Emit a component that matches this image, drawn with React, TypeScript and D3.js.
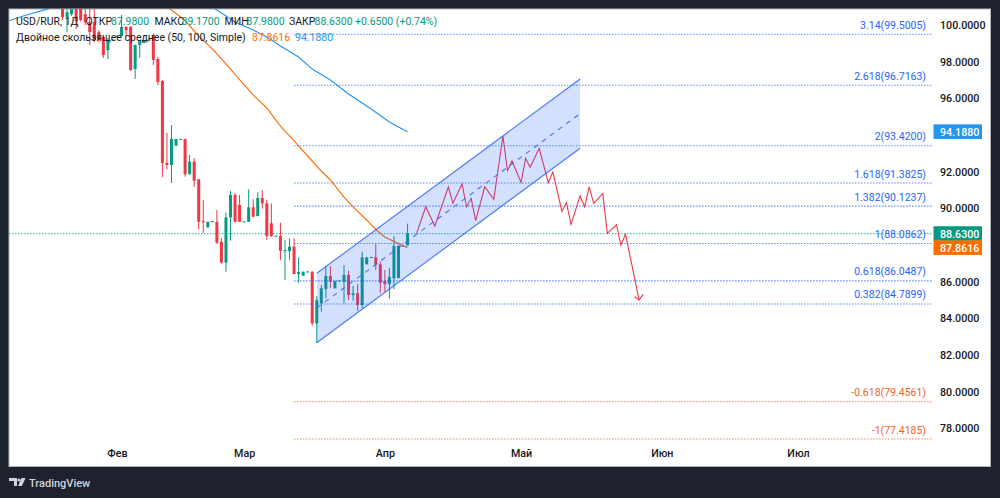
import { useEffect, useRef } from "react";
import * as d3 from "d3";

const WIDTH = 1000;
const HEIGHT = 498;
const FRAME = { left: 9, top: 9, right: 990.5, bottom: 466.5 };
const FONT = "Roboto, sans-serif";

const GREEN = "#089981";
const RED = "#f23645";
const BLUE = "#2962ff";
const ORANGE = "#ff6d00";
const SKY = "#2196f3";

// day numbers count from 1 Feb 2025
const FIRST_DAY = -12;
const opens = [101.1, 100.44, 100.6, 101.1, 100.9, 100.6, 100.17, 100.17, 99.62, 99.35, 98.64, 99.17, 99.38, 99.4, 99.9, 99.9, 97.6, 98.91, 99.02, 99.17, 99.46, 98.15, 96.95, 92.48, 92.37, 93.42, 93.74, 93.79, 91.86, 92.55, 91.59, 89.31, 88.97, 89.25, 89.27, 88.18, 87.04, 89.51, 90.73, 90.19, 89.26, 89.27, 90.06, 89.58, 90.57, 90.28, 89.19, 88.47, 88.5, 87.67, 87.67, 87.91, 86.42, 86.33, 86.53, 86.55, 83.73, 84.82, 85.6, 86.31, 85.64, 86.03, 86.0, 86.37, 85.27, 85.37, 84.73, 86.95, 87.31, 87.33, 86.95, 86.05, 85.87, 86.19, 86.2, 87.93, 87.98];
const highs = [101.4, 100.9, 101.2, 101.3, 101.2, 100.9, 100.9, 100.88, 99.73, 99.4, 99.3, 99.22, 99.42, 100.55, 99.95, 99.95, 98.95, 99.19, 99.19, 99.21, 99.55, 98.26, 97.0, 94.13, 94.55, 93.79, 93.79, 93.8, 92.91, 92.75, 91.6, 90.46, 89.27, 89.31, 89.91, 88.38, 89.77, 90.95, 90.84, 90.73, 89.29, 91.04, 90.5, 90.88, 91.0, 90.46, 90.28, 88.51, 89.22, 88.27, 88.37, 88.37, 87.33, 86.55, 86.56, 86.56, 85.22, 85.82, 86.86, 86.86, 86.05, 86.07, 86.91, 86.6, 85.77, 85.87, 87.64, 87.33, 87.35, 88.06, 87.09, 86.64, 86.75, 88.49, 87.97, 87.97, 89.17];
const lows = [100.28, 99.62, 100.5, 99.79, 100.2, 100.0, 98.91, 99.08, 99.08, 98.21, 98.15, 99.17, 99.38, 99.4, 99.35, 97.5, 97.06, 98.21, 99.02, 99.17, 97.82, 96.73, 91.71, 92.13, 91.39, 93.42, 93.74, 91.73, 91.86, 91.18, 88.86, 88.66, 88.97, 89.25, 88.06, 87.0, 86.55, 88.24, 89.22, 89.27, 89.26, 89.27, 89.51, 89.58, 89.98, 88.27, 88.45, 88.47, 87.18, 86.09, 87.18, 86.42, 85.95, 86.33, 86.53, 83.6, 82.67, 84.36, 85.09, 85.66, 85.64, 86.03, 84.82, 85.0, 84.96, 84.42, 84.57, 86.95, 87.31, 86.64, 85.4, 85.45, 85.09, 85.59, 86.2, 87.93, 87.98];
const closes = [100.44, 100.71, 100.95, 100.22, 100.28, 100.17, 99.62, 99.19, 99.19, 98.37, 99.19, 99.22, 99.42, 99.9, 99.73, 97.55, 98.91, 99.19, 99.19, 99.21, 98.1, 96.9, 92.48, 92.37, 93.79, 93.79, 93.79, 91.86, 92.55, 91.51, 89.27, 89.25, 89.27, 89.31, 88.13, 87.04, 89.51, 90.73, 89.27, 89.27, 89.29, 90.06, 89.55, 90.57, 90.28, 88.49, 88.49, 88.51, 87.69, 87.73, 87.91, 86.42, 86.53, 86.55, 86.56, 83.73, 85.0, 85.64, 86.31, 86.0, 86.05, 86.07, 86.37, 85.27, 85.37, 84.73, 87.33, 87.33, 87.35, 86.95, 85.95, 85.87, 86.27, 87.95, 87.97, 87.97, 88.63];

const fastDays = [10, 15, 18, 21, 24, 27, 30, 33, 36, 39, 42, 45, 47, 50, 52, 55, 57, 59, 62, 64];
const fastValues = [101.2, 100.25, 99.4, 98.7, 97.88, 97.03, 96.19, 95.48, 94.49, 93.68, 92.86, 92.04, 91.55, 90.62, 90.08, 89.37, 88.85, 88.44, 88.08, 87.8616];
const slowDays = [-24, -20, -15, -5, 10, 20, 22, 26, 30, 33, 36, 40, 43, 47, 51, 56, 60, 62, 64];
const slowValues = [100.22, 100.55, 100.9, 101.8, 102.0, 101.15, 100.82, 100.17, 99.73, 99.35, 98.86, 98.26, 97.6, 97.0, 96.24, 95.42, 94.71, 94.44, 94.188];

const pathDays = [66, 68, 70, 73, 74, 76, 77, 78, 79, 81, 83, 85, 86, 87, 89, 90, 91, 93, 95, 96, 98, 99, 100, 102, 103, 104, 105, 107, 108, 110, 111, 112, 115];
const pathValues = [88.64, 90.09, 89.04, 91.18, 90.28, 91.33, 90.09, 90.55, 89.33, 91.18, 90.5, 93.95, 92.06, 92.59, 91.42, 92.73, 92.24, 93.28, 91.4, 91.99, 89.84, 90.31, 89.13, 90.68, 90.09, 91.18, 90.28, 90.82, 88.64, 89.11, 87.99, 88.6, 85.0];
const arrowDays = [114, 115, 115.9];
const arrowValues = [85.18, 85.0, 85.31];

const channelDays = [44, 102];
const channelUpper = [86.46, 97.06];
const channelLower = [82.67, 93.28];
const channelMiddle = [84.565, 95.17];

const FIB_START_DAY = 39;
const fibRatios = ["3.14", "2.618", "2", "1.618", "1.382", "1", "0.618", "0.382", "-0.618", "-1"];
const fibValues = [99.5005, 96.7163, 93.42, 91.3825, 90.1237, 88.0862, 86.0487, 84.7899, 79.4561, 77.4185];

const priceTicks = [100, 98, 96, 92, 90, 86, 84, 82, 80, 78];
const monthLabels = ["Фев", "Мар", "Апр", "Май", "Июн", "Июл"];
const monthTicks = [1, 2, 3, 4, 5, 6].map((m) => new Date(Date.UTC(2025, m, 1)));

const lastValues = [
  { value: 94.188, color: SKY },
  { value: 88.63, color: GREEN },
  { value: 87.8616, color: ORANGE },
];

const legendRow = [
  { x: 16, text: "USD/RUR, 1Д", color: "#131722" },
  { x: 85.5, text: "ОТКР", color: "#131722" },
  { x: 111, text: "87.9800", color: GREEN },
  { x: 154.5, text: "МАКС", color: "#131722" },
  { x: 181.5, text: "89.1700", color: GREEN },
  { x: 224.5, text: "МИН", color: "#131722" },
  { x: 246.5, text: "87.9800", color: GREEN },
  { x: 289, text: "ЗАКР", color: "#131722" },
  { x: 314.5, text: "88.6300", color: GREEN },
  { x: 355, text: "+0.6500 (+0.74%)", color: GREEN },
];

const dayDate = (d: number) => new Date(Date.UTC(2025, 1, 1) + d * 86400000);

const xScale = d3
  .scaleUtc()
  .domain([new Date(Date.UTC(2025, 1, 1)), new Date(Date.UTC(2025, 6, 1))])
  .range([117, 798]);
const yScale = d3.scaleLinear().domain([100, 78]).range([25.1, 428.4]);
const xDay = (d: number) => xScale(dayDate(d));

const drawLine = (days: number[], values: number[]) =>
  d3
    .line<number>()
    .x((d) => xDay(d))
    .y((_, i) => yScale(values[i]))(days) ?? "";

const channelArea =
  d3
    .area<number>()
    .x((d) => xDay(d))
    .y0((_, i) => yScale(channelLower[i]))
    .y1((_, i) => yScale(channelUpper[i]))(channelDays) ?? "";

export default function App() {
  const priceAxisRef = useRef<SVGGElement>(null);
  const timeAxisRef = useRef<SVGGElement>(null);

  // axes are drawn by d3, only the text is kept
  useEffect(() => {
    const priceAxis = d3
      .axisRight(yScale)
      .tickValues(priceTicks)
      .tickSize(0)
      .tickPadding(0)
      .tickFormat((d) => (d as number).toFixed(4));
    const timeAxis = d3
      .axisBottom(xScale)
      .tickValues(monthTicks)
      .tickSize(0)
      .tickPadding(0)
      .tickFormat((_, i) => monthLabels[i]);
    const styleAxis = (g: d3.Selection<SVGGElement, unknown, null, undefined>) => {
      g.select(".domain").remove();
      g.selectAll("text")
        .attr("fill", "#131722")
        .style("font-family", FONT)
        .style("font-size", "10.7px")
        .style("font-weight", "500");
    };
    d3.select(priceAxisRef.current!).call(priceAxis).call(styleAxis);
    d3.select(timeAxisRef.current!).call(timeAxis).call(styleAxis);
  }, []);

  return (
    <div style={{ position: "absolute", left: 0, top: 0 }}>
      <svg width={WIDTH} height={HEIGHT} style={{ display: "block" }} fontFamily={FONT}>
        <defs>
          <clipPath id="pane">
            <rect
              x={FRAME.left}
              y={FRAME.top}
              width={FRAME.right - FRAME.left}
              height={FRAME.bottom - FRAME.top}
            />
          </clipPath>
        </defs>
        <rect width={WIDTH} height={HEIGHT} fill="#1e222d" />
        <rect
          x={FRAME.left}
          y={FRAME.top}
          width={FRAME.right - FRAME.left}
          height={FRAME.bottom - FRAME.top}
          fill="#fff"
          stroke="#b2b5be"
        />

        <g clipPath="url(#pane)">
          <line
            x1={FRAME.left}
            x2={933}
            y1={yScale(88.63)}
            y2={yScale(88.63)}
            stroke="#22b59b"
            strokeOpacity={0.8}
            strokeWidth={1.2}
            strokeDasharray="1.5 1.5"
          />

          {opens.map((open, i) => {
            const x = xDay(FIRST_DAY + i);
            const color = closes[i] >= open ? GREEN : RED;
            const top = yScale(Math.max(open, closes[i]));
            const bottom = yScale(Math.min(open, closes[i]));
            return (
              <g key={i} fill={color}>
                <rect x={x - 0.5} width={1} y={yScale(highs[i])} height={yScale(lows[i]) - yScale(highs[i])} />
                <rect x={x - 1.5} width={3} y={top} height={Math.max(bottom - top, 1)} />
              </g>
            );
          })}

          <path d={drawLine(slowDays, slowValues)} fill="none" stroke={SKY} strokeWidth={1.15} />
          <path d={drawLine(fastDays, fastValues)} fill="none" stroke={ORANGE} strokeWidth={1.15} />

          <path d={drawLine(pathDays, pathValues)} fill="none" stroke={RED} strokeWidth={1.1} />
          <path d={drawLine(arrowDays, arrowValues)} fill="none" stroke={RED} strokeWidth={1.1} />

          {fibValues.map((value, i) => {
            const color = value < 80 ? "#f4611f" : BLUE;
            return (
              <g key={fibRatios[i]}>
                <line
                  x1={xDay(FIB_START_DAY)}
                  x2={933}
                  y1={yScale(value)}
                  y2={yScale(value)}
                  stroke={color}
                  strokeOpacity={0.75}
                  strokeWidth={1.1}
                  strokeDasharray="1.5 1.5"
                />
                <text x={926} y={yScale(value) - 5.5} textAnchor="end" fontSize={10.5} fill={color}>
                  {`${fibRatios[i]}(${value.toFixed(4)})`}
                </text>
              </g>
            );
          })}

          <path d={channelArea} fill={BLUE} fillOpacity={0.2} />
          <path d={drawLine(channelDays, channelUpper)} fill="none" stroke={BLUE} strokeOpacity={0.85} strokeWidth={1.1} />
          <path d={drawLine(channelDays, channelLower)} fill="none" stroke={BLUE} strokeOpacity={0.85} strokeWidth={1.1} />
          <path d={drawLine(channelDays, channelMiddle)} fill="none" stroke={BLUE} strokeOpacity={0.85} strokeWidth={1.1} strokeDasharray="5 5" />
        </g>

        <g ref={priceAxisRef} transform="translate(940,0)" />
        <g ref={timeAxisRef} transform="translate(0,449)" />

        {lastValues.map((d) => (
          <g key={d.value}>
            <rect x={933.5} y={yScale(d.value) - 7.3} width={48.5} height={14.6} fill={d.color} />
            <text x={940} y={yScale(d.value) + 4} fontSize={10.7} fontWeight={500} fill="#fff">
              {d.value.toFixed(4)}
            </text>
          </g>
        ))}

        <g fontSize={10.5}>
          {legendRow.map((d) => (
            <text key={d.x} x={d.x} y={25} fill={d.color}>
              {d.text}
            </text>
          ))}
          <text x={16} y={41} fill="#131722">
            Двойное скользящее среднее (50, 100, Simple)
          </text>
          <text x={252} y={41} fill={ORANGE}>
            87.8616
          </text>
          <text x={295} y={41} fill={SKY}>
            94.1880
          </text>
        </g>

        <g fill="#d1d4dc">
          <path d="M9 478h8v8h-3v-5h-5z" />
          <circle cx={19} cy={480} r={1.6} />
          <path d="M21.5 478h4l-3.6 8h-3.8z" />
          <text x={29} y={486.5} fontSize={11} fontWeight={500}>
            TradingView
          </text>
        </g>
      </svg>
    </div>
  );
}
